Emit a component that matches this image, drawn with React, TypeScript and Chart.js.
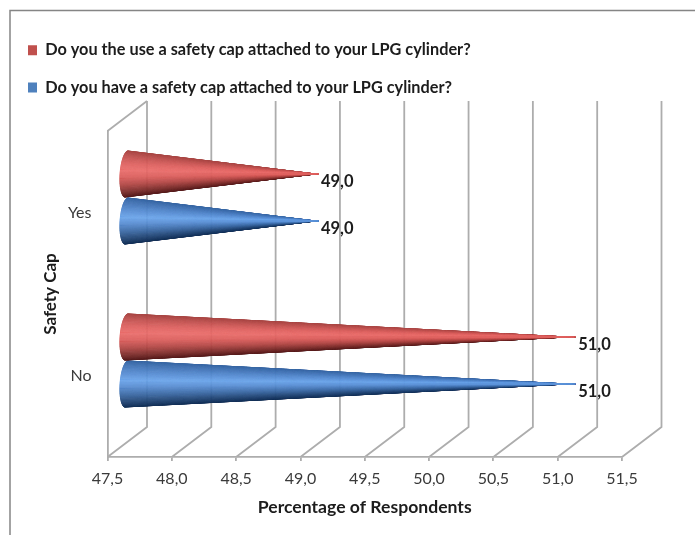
import React, { useEffect, useRef } from "react";
import { Chart, registerables } from "chart.js";

Chart.register(...registerables);

const categories = ["Yes", "No"];
const useCapSeries = [49.0, 51.0];
const haveCapSeries = [49.0, 51.0];
const useCapLabel = "Do you the use a safety cap attached to your LPG cylinder?";
const haveCapLabel = "Do you have a safety cap attached to your LPG cylinder?";
const axisMin = 47.5;
const axisMax = 51.5;
const axisStep = 0.5;
const xTitle = "Percentage of Respondents";
const yTitle = "Safety Cap";

const FONT = "Lato, 'Open Sans', sans-serif";
const GRID = "#adadad";
const GRID_WIDTH = 1.8;
const DEPTH_X = 39.5;
const DEPTH_Y = 30;
const CONE_SHIFT_X = 19;
const CONE_SHIFT_Y = 15;

type Rgb = [number, number, number];
// Shading across a cone, from its upper edge to its lower edge.
const redRamp: Rgb[] = [
  [166, 70, 68], [196, 84, 82], [222, 98, 96], [234, 108, 106], [216, 92, 90], [180, 72, 70], [132, 50, 48], [84, 28, 28],
];
const blueRamp: Rgb[] = [
  [56, 102, 162], [70, 120, 186], [88, 142, 212], [106, 164, 234], [84, 136, 204], [60, 106, 166], [38, 74, 122], [20, 48, 86],
];

const rampColor = (ramp: Rgb[], t: number) => {
  const p = Math.max(0, Math.min(0.9999, t)) * (ramp.length - 1);
  const i = Math.floor(p);
  const f = p - i;
  const c = ramp[i].map((v, k) => Math.round(v + (ramp[i + 1][k] - v) * f));
  return `rgb(${c[0]},${c[1]},${c[2]})`;
};

// A cone lying on its side: a fan of thin slices from the tip to the rim of its base,
// clipped to the cone's outline. Slices nearest the highlight go on last so the point stays light.
function drawCone(ctx: CanvasRenderingContext2D, baseX: number, tipX: number, cy: number, halfH: number, ramp: Rgb[]) {
  const rx = 7;
  const steps = 90;
  const rim = (a: number) => [baseX - rx * Math.cos(a) - 1.5 * Math.sin(a), cy + halfH * Math.sin(a)];
  ctx.save();
  ctx.beginPath();
  ctx.moveTo(tipX, cy);
  for (let k = 0; k <= steps; k++) {
    const [x, y] = rim(-Math.PI / 2 + (Math.PI * k) / steps);
    ctx.lineTo(x, y);
  }
  ctx.closePath();
  ctx.clip();
  const order = Array.from({ length: steps }, (_, k) => k).sort(
    (p, q) => Math.abs(q - steps / 2) - Math.abs(p - steps / 2),
  );
  order.forEach((k) => {
    const a0 = -Math.PI / 2 + (Math.PI * k) / steps;
    const a1 = -Math.PI / 2 + (Math.PI * (k + 1)) / steps;
    const [x0, y0] = rim(a0);
    const [x1, y1] = rim(a1);
    const color = rampColor(ramp, (Math.sin((a0 + a1) / 2) + 1) / 2);
    ctx.fillStyle = color;
    ctx.strokeStyle = color;
    ctx.lineWidth = 0.4;
    ctx.beginPath();
    ctx.moveTo(tipX, cy);
    ctx.lineTo(x0, y0);
    ctx.lineTo(x1, y1);
    ctx.closePath();
    ctx.fill();
    ctx.stroke();
  });
  ctx.restore();
}

// Outer frame, side wall and the receding floor and back-wall gridlines.
const wallsPlugin = {
  id: "walls",
  beforeDraw(chart: any) {
    const { ctx, width, height } = chart;
    ctx.save();
    ctx.strokeStyle = "#858585";
    ctx.lineWidth = 1.5;
    ctx.beginPath();
    ctx.moveTo(10, height);
    ctx.lineTo(10, 10.5);
    ctx.lineTo(width, 10.5);
    ctx.stroke();
    ctx.restore();
  },
  beforeDatasetsDraw(chart: any) {
    const { ctx, chartArea, scales } = chart;
    const { top, bottom, left } = chartArea;
    ctx.save();
    ctx.strokeStyle = GRID;
    ctx.lineWidth = GRID_WIDTH;
    ctx.lineJoin = "miter";
    scales.x.ticks.forEach((tick: any) => {
      const x = scales.x.getPixelForValue(tick.value);
      ctx.beginPath();
      ctx.moveTo(x, bottom);
      ctx.lineTo(x + DEPTH_X, bottom - DEPTH_Y);
      ctx.lineTo(x + DEPTH_X, top - DEPTH_Y);
      ctx.stroke();
    });
    ctx.beginPath();
    ctx.moveTo(left, top);
    ctx.lineTo(left + DEPTH_X, top - DEPTH_Y);
    ctx.stroke();
    ctx.restore();
  },
};

// Replaces each flat bar with a cone placed mid-way through the chart's depth.
const conePlugin = {
  id: "cones",
  beforeDatasetDraw(chart: any, args: any) {
    const { ctx, scales } = chart;
    const ramp = args.index === 0 ? redRamp : blueRamp;
    const baseX = scales.x.getPixelForValue(axisMin) + CONE_SHIFT_X;
    ctx.save();
    args.meta.data.forEach((bar: any) => {
      const props = bar.getProps(["x", "y", "height"], true);
      drawCone(ctx, baseX, props.x + CONE_SHIFT_X, props.y - CONE_SHIFT_Y, props.height / 2, ramp);
    });
    ctx.restore();
    return false;
  },
  afterDatasetsDraw(chart: any) {
    const { ctx, data } = chart;
    ctx.save();
    ctx.font = `bold 16.5px ${FONT}`;
    ctx.fillStyle = "#1c1c1c";
    ctx.textAlign = "left";
    ctx.textBaseline = "middle";
    data.datasets.forEach((ds: any, i: number) => {
      chart.getDatasetMeta(i).data.forEach((bar: any, j: number) => {
        const props = bar.getProps(["x", "y"], true);
        const text = ds.data[j].toFixed(1).replace(".", ",");
        ctx.fillText(text, props.x + CONE_SHIFT_X + 1.5, props.y - CONE_SHIFT_Y + 8);
      });
    });
    ctx.restore();
  },
};

export default function App() {
  const canvasRef = useRef<HTMLCanvasElement | null>(null);

  useEffect(() => {
    const chart = new Chart(canvasRef.current as HTMLCanvasElement, {
      type: "bar",
      data: {
        labels: categories,
        datasets: [
          { label: useCapLabel, data: useCapSeries, backgroundColor: "#C0504D" },
          { label: haveCapLabel, data: haveCapSeries, backgroundColor: "#4F81BD" },
        ],
      },
      plugins: [wallsPlugin, conePlugin],
      options: {
        indexAxis: "y",
        responsive: false,
        animation: false,
        layout: { padding: { left: 7, right: 73, top: 21, bottom: 0 } },
        categoryPercentage: 0.5767,
        barPercentage: 1,
        plugins: {
          tooltip: { enabled: false },
          legend: {
            position: "top",
            align: "start",
            labels: {
              boxWidth: 9,
              boxHeight: 10,
              padding: 21,
              color: "#1c1c1c",
              font: { family: FONT, size: 16.3, weight: "bold" },
            },
          },
        },
        scales: {
          x: {
            type: "linear",
            min: axisMin,
            max: axisMax,
            afterFit: (s: any) => {
              s.height = 78;
            },
            grid: { drawOnChartArea: false, drawTicks: true, tickLength: 4, color: GRID, lineWidth: GRID_WIDTH },
            border: { display: true, color: GRID, width: GRID_WIDTH },
            ticks: {
              stepSize: axisStep,
              color: "#3a3a3a",
              padding: 8,
              maxRotation: 0,
              font: { family: FONT, size: 16 },
              callback: (v: any) => Number(v).toFixed(1).replace(".", ","),
            },
            title: {
              display: true,
              text: xTitle,
              color: "#1c1c1c",
              font: { family: FONT, size: 17.6, weight: "bold" },
              padding: { top: 0, bottom: 17 },
            },
          },
          // Empty top axis: keeps the room the back wall needs below the legend.
          depthRoom: {
            type: "linear",
            axis: "x",
            position: "top",
            min: axisMin,
            max: axisMax,
            afterFit: (s: any) => {
              s.height = 25.4;
            },
            grid: { display: false, drawTicks: false },
            border: { display: false },
            ticks: { display: false },
          },
          y: {
            type: "category",
            afterFit: (s: any) => {
              s.width = 100.5;
            },
            grid: { drawOnChartArea: false, drawTicks: false },
            border: { display: true, color: GRID, width: GRID_WIDTH },
            ticks: { color: "#3a3a3a", padding: 16, font: { family: FONT, size: 16 } },
            title: {
              display: true,
              text: yTitle,
              color: "#1c1c1c",
              font: { family: FONT, size: 17, weight: "bold" },
              padding: { top: 33.5, bottom: 0 },
            },
          },
        },
      },
    } as any);
    return () => chart.destroy();
  }, []);

  return (
    <div style={{ position: "absolute", left: 0, top: 0, width: 695, height: 535, background: "#fff" }}>
      <canvas ref={canvasRef} width={695} height={535} style={{ display: "block" }} />
    </div>
  );
}
